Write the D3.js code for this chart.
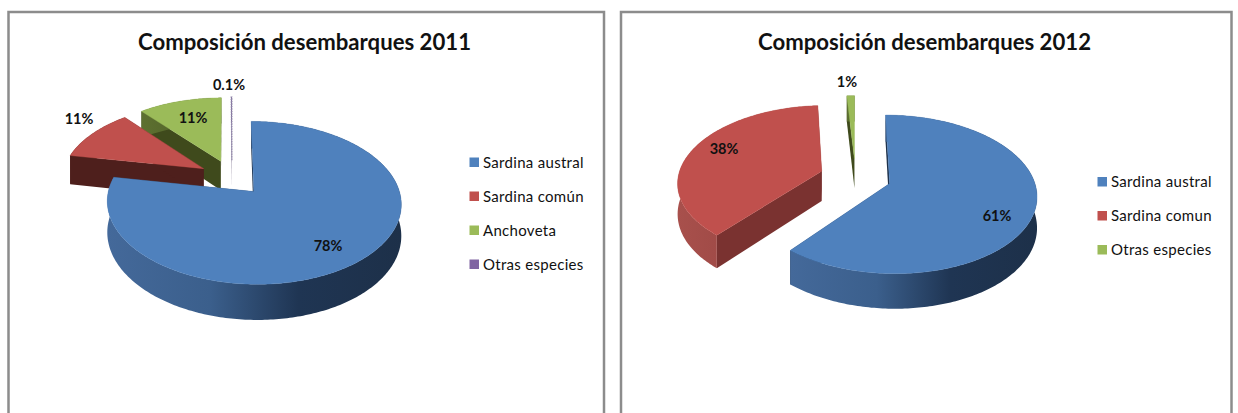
<!DOCTYPE html>
<html>
<head>
<meta charset="utf-8">
<script src="https://cdn.jsdelivr.net/npm/d3@7"></script>
<style>
  html, body { margin: 0; padding: 0; background: #fff; overflow: hidden; }
  text { font-family: Lato, "Open Sans", sans-serif; fill: #111; }
</style>
</head>
<body>
<script>
// data
var categories2011 = ["Sardina austral", "Sardina común", "Anchoveta", "Otras especies"];
var values2011 = [78, 11, 11, 0.1];
var labels2011 = ["78%", "11%", "11%", "0.1%"];

var categories2012 = ["Sardina austral", "Sardina comun", "Otras especies"];
var values2012 = [61, 38, 1];
var labels2012 = ["61%", "38%", "1%"];

var colors2011 = ["#4f81bd", "#c0504d", "#9bbb59", "#8064a2"];
var colors2012 = ["#4f81bd", "#c0504d", "#9bbb59"];

var width = 1238, height = 413;

var svg = d3.select("body").append("svg")
    .attr("width", width)
    .attr("height", height);

var defs = svg.append("defs");

// 3d pie settings, same camera for both charts
var ry = 76, persp = 0.135, depth = 30;

function wallGradient(id, stops){
  var g = defs.append("linearGradient").attr("id", id)
      .attr("x1", "0%").attr("x2", "100%").attr("y1", "0%").attr("y2", "0%");
  stops.forEach(function(s){
    g.append("stop").attr("offset", s[0]).attr("stop-color", s[1]);
  });
}
wallGradient("blueWall", [["0%", "#44699a"], ["35%", "#3b5f8c"], ["65%", "#1f3553"], ["100%", "#1d3049"]]);
wallGradient("redWall", [["0%", "#a8504c"], ["100%", "#8f3f3c"]]);
wallGradient("darkRedWall", [["0%", "#4e1f1c"], ["100%", "#4e1f1c"]]);
wallGradient("greenWall", [["0%", "#5d7030"], ["100%", "#4b5a26"]]);
wallGradient("purpleWall", [["0%", "#5a4673"], ["100%", "#4a3a60"]]);

drawChart({
  frame: [8.5, 12, 595.5],
  title: "Composición desembarques 2011",
  titleX: 304.5,
  cx: 232, cy: 177.5, rx: 142, explode: 0.235,
  categories: categories2011,
  values: values2011,
  labels: labels2011,
  colors: colors2011,
  faces: ["#1d3049", "#4e1f1c", "#3f4a1c", "#4a3a60"],
  walls: ["blueWall", "darkRedWall", "greenWall", "purpleWall"],
  labelPos: [[328, 246], [79, 119], [193, 118], [229, 85]],
  legendX: 469.5, legendY: 162.5
});

drawChart({
  frame: [621, 12, 610.5],
  title: "Composición desembarques 2012",
  titleX: 924.5,
  cx: 855.5, cy: 177, rx: 143.6, explode: 0.25,
  categories: categories2012,
  values: values2012,
  labels: labels2012,
  colors: colors2012,
  faces: ["#1d3049", "#7a3230", "#3f4a1c"],
  walls: ["blueWall", "redWall", "greenWall"],
  labelPos: [[997, 216], [724, 149], [847, 82]],
  legendX: 1097.5, legendY: 182
});

function drawChart(c){
  var g = svg.append("g");

  g.append("rect")
      .attr("x", c.frame[0]).attr("y", c.frame[1])
      .attr("width", c.frame[2]).attr("height", height)
      .attr("fill", "#fff")
      .attr("stroke", "#8c8c8c")
      .attr("stroke-width", 2.5);

  g.append("text")
      .attr("x", c.titleX).attr("y", 50)
      .attr("text-anchor", "middle")
      .attr("font-weight", 700)
      .attr("font-size", 23.5)
      .attr("textLength", 333)
      .attr("lengthAdjust", "spacingAndGlyphs")
      .text(c.title);

  var pie = d3.pie().sort(null).startAngle(0).endAngle(2 * Math.PI);
  var slices = pie(c.values);

  // project a point of the pie disc to the screen
  function project(u, v, drop){
    var s = 1 / (1 - persp * v);
    return [c.cx + c.rx * u * s, c.cy + ry * v * s + (drop ? depth * s : 0)];
  }

  var line = d3.line();

  // back slices first, the big blue one goes last
  d3.range(slices.length - 1, -1, -1).forEach(function(i){
    var d = slices[i],
        mid = (d.startAngle + d.endAngle) / 2,
        ou = c.explode * Math.sin(mid),
        ov = -c.explode * Math.cos(mid);

    var n = Math.max(2, Math.ceil((d.endAngle - d.startAngle) * 60));
    var angles = d3.range(n + 1).map(function(k){
      return d.startAngle + (d.endAngle - d.startAngle) * k / n;
    });

    function rim(a, drop){
      return project(ou + Math.sin(a), ov - Math.cos(a), drop);
    }
    var apexTop = project(ou, ov, false),
        apexBottom = project(ou, ov, true),
        topRim = angles.map(function(a){ return rim(a, false); }),
        bottomRim = angles.map(function(a){ return rim(a, true); });

    var sg = g.append("g");

    // radial faces
    [d.startAngle, d.endAngle].forEach(function(a){
      sg.append("path")
          .attr("d", line([apexTop, rim(a, false), rim(a, true), apexBottom]) + "Z")
          .attr("fill", c.faces[i]);
    });

    // outer wall
    sg.append("path")
        .attr("d", line(topRim.concat(bottomRim.slice().reverse())) + "Z")
        .attr("fill", "url(#" + c.walls[i] + ")");

    // top surface
    sg.append("path")
        .attr("d", line([apexTop].concat(topRim)) + "Z")
        .attr("fill", c.colors[i])
        .attr("stroke", d.value < 0.5 ? "#8f86a8" : c.colors[i])
        .attr("stroke-width", d.value < 0.5 ? 1.2 : 0.4)
        .attr("stroke-dasharray", d.value < 0.5 ? "1.5 1" : null);
  });

  g.selectAll(".lab")
      .data(c.labels)
    .enter().append("text")
      .attr("class", "lab")
      .attr("x", function(d, i){ return c.labelPos[i][0]; })
      .attr("y", function(d, i){ return c.labelPos[i][1]; })
      .attr("dy", "0.35em")
      .attr("text-anchor", "middle")
      .attr("font-weight", 700)
      .attr("font-size", 14.5)
      .text(function(d){ return d; });

  var legendY = d3.scalePoint()
      .domain(c.categories)
      .range([c.legendY, c.legendY + 34 * (c.categories.length - 1)]);

  var lg = g.selectAll(".leg")
      .data(c.categories)
    .enter().append("g")
      .attr("class", "leg")
      .attr("transform", function(d){ return "translate(" + c.legendX + "," + legendY(d) + ")"; });

  lg.append("rect")
      .attr("x", 0).attr("y", -5)
      .attr("width", 9.5).attr("height", 9.5)
      .attr("fill", function(d, i){ return c.colors[i]; });

  lg.append("text")
      .attr("x", 13.5)
      .attr("dy", "0.35em")
      .attr("font-size", 15)
      .attr("letter-spacing", 0.3)
      .attr("fill", "#222")
      .text(function(d){ return d; });
}
</script>
</body>
</html>
